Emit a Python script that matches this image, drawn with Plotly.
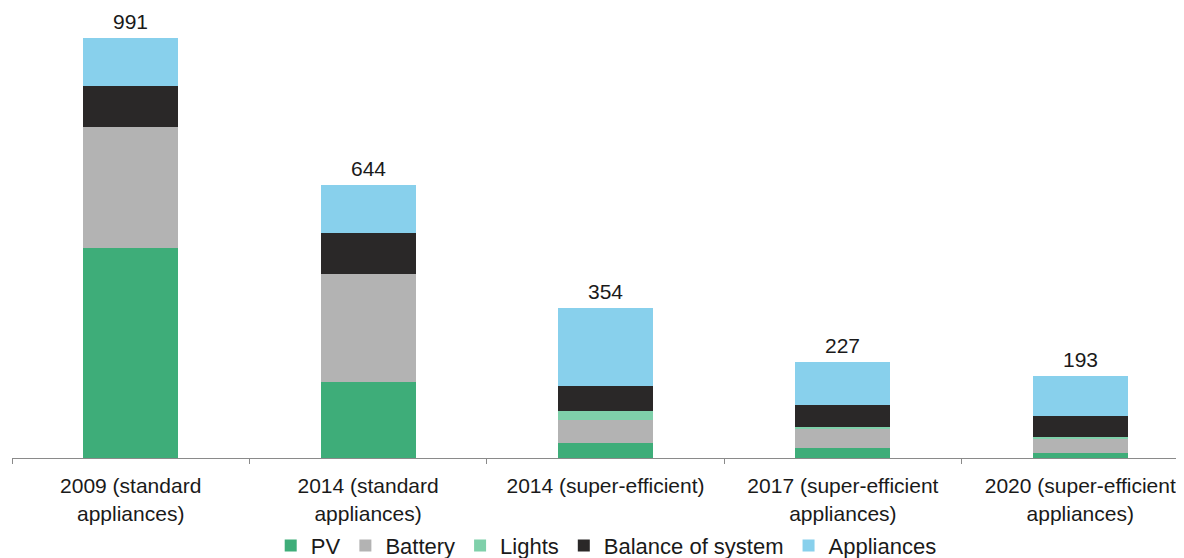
import plotly.graph_objects as go

categories = [
    "2009 (standard<br>appliances)",
    "2014 (standard<br>appliances)",
    "2014 (super-efficient)",
    "2017 (super-efficient<br>appliances)",
    "2020 (super-efficient<br>appliances)",
]
pv = [495, 180, 36, 24, 12]
battery = [286, 254, 54, 45, 35]
lights = [0, 0, 22, 5, 3]
balance_of_system = [98, 98, 58, 51, 49]
appliances = [112, 112, 184, 102, 94]
totals = [991, 644, 354, 227, 193]

series = [
    ("PV", pv, "#3EAD79"),
    ("Battery", battery, "#B3B3B3"),
    ("Lights", lights, "#7FD0AA"),
    ("Balance of system", balance_of_system, "#2A2828"),
    ("Appliances", appliances, "#88D0EC"),
]

FONT = "Liberation Sans, Arial, sans-serif"

fig = go.Figure()
for name, vals, color in series:
    fig.add_trace(go.Bar(
        x=categories, y=vals, name=name,
        marker=dict(color=color, line=dict(width=0)),
        width=0.4,
    ))

for cat, tot in zip(categories, totals):
    fig.add_annotation(
        x=cat, y=tot, text=str(tot), showarrow=False,
        yanchor="bottom", yshift=3,
        font=dict(size=21, color="#1a1a1a", family=FONT),
    )

# page body has an 8px default margin; figure sized to fit inside the window
fig.update_layout(
    width=1176, height=550,
    barmode="stack",
    margin=dict(l=4, r=0, t=2, b=100, autoexpand=False),
    paper_bgcolor="white", plot_bgcolor="white",
    font=dict(family=FONT, size=21, color="#1a1a1a"),
    showlegend=True,
    legend=dict(
        orientation="h", x=0.507, xanchor="center", y=-0.196, yanchor="middle",
        font=dict(size=22, family=FONT, color="#1a1a1a"),
        traceorder="normal", itemwidth=30, itemsizing="constant",
        bgcolor="rgba(0,0,0,0)",
    ),
    xaxis=dict(
        type="category", range=[-0.5, 4.437], automargin=False,
        showline=True, linecolor="#8a8a8a", linewidth=1,
        ticks="outside", tickson="boundaries", ticklen=5, tickcolor="#8a8a8a",
        ticklabelstandoff=9,
        showgrid=False, tickfont=dict(size=21, family=FONT, color="#1a1a1a"),
    ),
    yaxis=dict(
        range=[0, 1058], visible=False, showgrid=False, zeroline=False,
        automargin=False,
    ),
)

fig.write_html("out.html")
